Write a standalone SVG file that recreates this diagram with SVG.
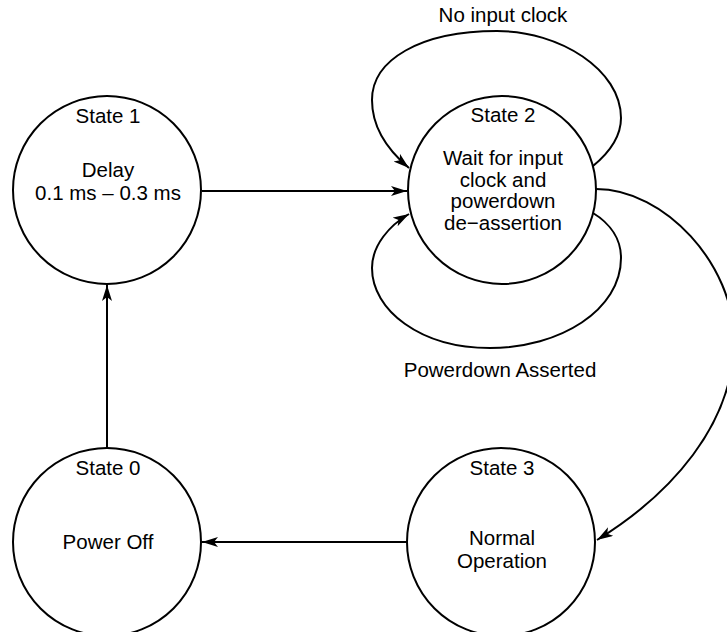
<svg xmlns="http://www.w3.org/2000/svg" width="727" height="632" viewBox="0 0 727 632">
<defs>
<marker id="arr" markerUnits="userSpaceOnUse" markerWidth="17" markerHeight="11" refX="16" refY="5" orient="auto">
<path d="M0,0 L16,5 L0,10 L4,5 z" fill="#000"/>
</marker>
<style>
.st{fill:#fff;stroke:#000;stroke-width:2}
.c{fill:none;stroke:#000;stroke-width:2;marker-end:url(#arr)}
text{font-family:"Liberation Sans",Arial,Helvetica,sans-serif;font-size:20.5px;fill:#000;text-anchor:middle}
</style>
</defs>
<rect width="727" height="632" fill="#fff"/>
<g id="connectors">
<path class="c" d="M107,447 L107,285"/>
<path class="c" d="M202,191 L407,191"/>
<path class="c" d="M407,542 L202,542"/>
<path class="c" d="M596,189 C665,189 734,265 734,340 C734,425 670,495 597,540"/>
<path class="c" d="M593,166 C610,152 621,136 621,118 C621,70 560,31 497,31 C420,31 372,60 372,100 C372,130 390,152 409,168"/>
<path class="c" d="M593,213 C611,224 621,240 621,258 C621,310 560,348 490,348 C420,348 372,310 372,268 C372,245 390,225 409,214"/>
</g>
<g id="labels">
<text x="503" y="22">No input clock</text>
<text x="500" y="377">Powerdown Asserted</text>
</g>
<g id="state1">
<circle class="st" cx="107" cy="190" r="94"/>
<text x="108" y="123">State 1</text>
<text x="108" y="177">Delay</text>
<text x="108" y="200">0.1 ms – 0.3 ms</text>
</g>
<g id="state2">
<circle class="st" cx="502" cy="190" r="94"/>
<text x="503" y="122">State 2</text>
<text x="503" y="165">Wait for input</text>
<text x="503" y="187">clock and</text>
<text x="503" y="208">powerdown</text>
<text x="503" y="230">de−assertion</text>
</g>
<g id="state0">
<circle class="st" cx="107" cy="542" r="94"/>
<text x="108" y="475">State 0</text>
<text x="108" y="549">Power Off</text>
</g>
<g id="state3">
<circle class="st" cx="501" cy="542" r="94"/>
<text x="502" y="475">State 3</text>
<text x="502" y="545">Normal</text>
<text x="502" y="568">Operation</text>
</g>
</svg>
